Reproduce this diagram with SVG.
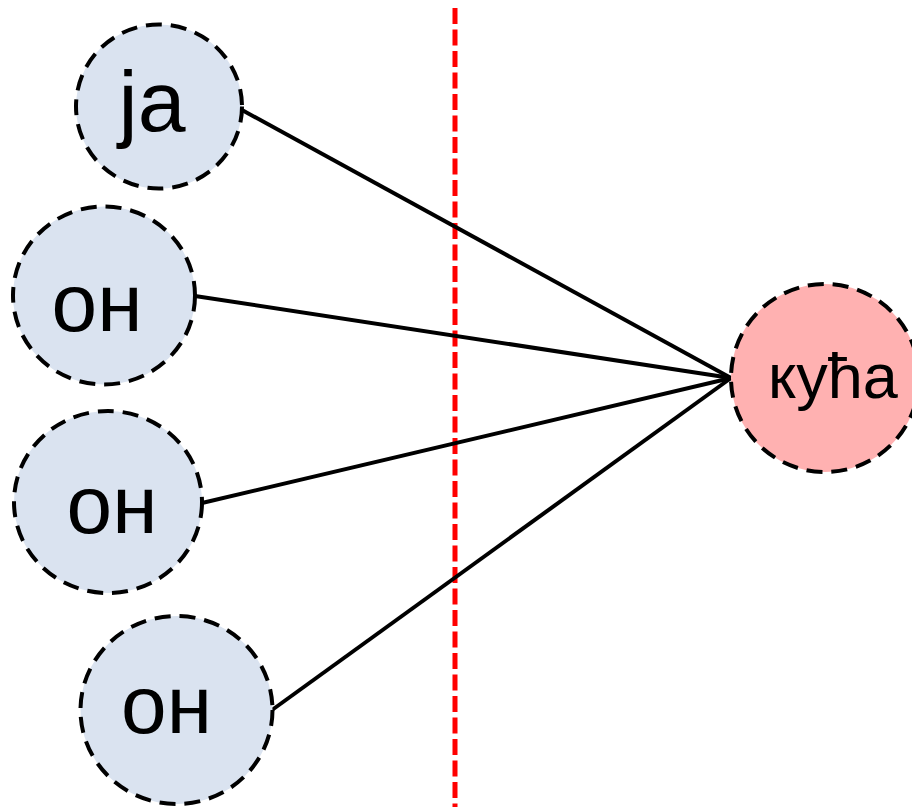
<svg xmlns="http://www.w3.org/2000/svg" width="912" height="807" viewBox="0 0 912 807">
<style>
.n{stroke:#000;stroke-width:4;stroke-dasharray:16 9}
.b{fill:#DAE3F0}
.p{fill:#FFB1B1}
.t{font-family:"Liberation Sans",Arial,sans-serif;fill:#000;text-anchor:middle}
.c line{stroke:#000;stroke-width:4}
</style>
<rect width="912" height="807" fill="#fff"/>
<line x1="455" y1="8" x2="455" y2="807" stroke="#FF0000" stroke-width="5" stroke-dasharray="16 5.5"/>
<g class="c" id="connectors">
<line x1="242" y1="110" x2="731" y2="378"/>
<line x1="195" y1="296" x2="731" y2="378"/>
<line x1="202" y1="503" x2="731" y2="378"/>
<line x1="272" y1="710" x2="731" y2="378"/>
</g>
<g id="ja"><ellipse class="n b" cx="159" cy="106.5" rx="83" ry="82"/><text class="t" x="152" y="131" font-size="86">ja</text></g>
<g id="on1"><ellipse class="n b" cx="104" cy="295.5" rx="91" ry="89"/><text class="t" x="97" y="331" font-size="82">он</text></g>
<g id="on2"><ellipse class="n b" cx="108" cy="502" rx="94" ry="91"/><text class="t" x="112" y="533" font-size="82">он</text></g>
<g id="on3"><ellipse class="n b" cx="176.5" cy="710" rx="96" ry="94"/><text class="t" x="166.5" y="733" font-size="82">он</text></g>
<g id="kuca"><ellipse class="n p" cx="825" cy="378" rx="94" ry="94"/><text class="t" x="833" y="398" font-size="63">кућа</text></g>
</svg>
